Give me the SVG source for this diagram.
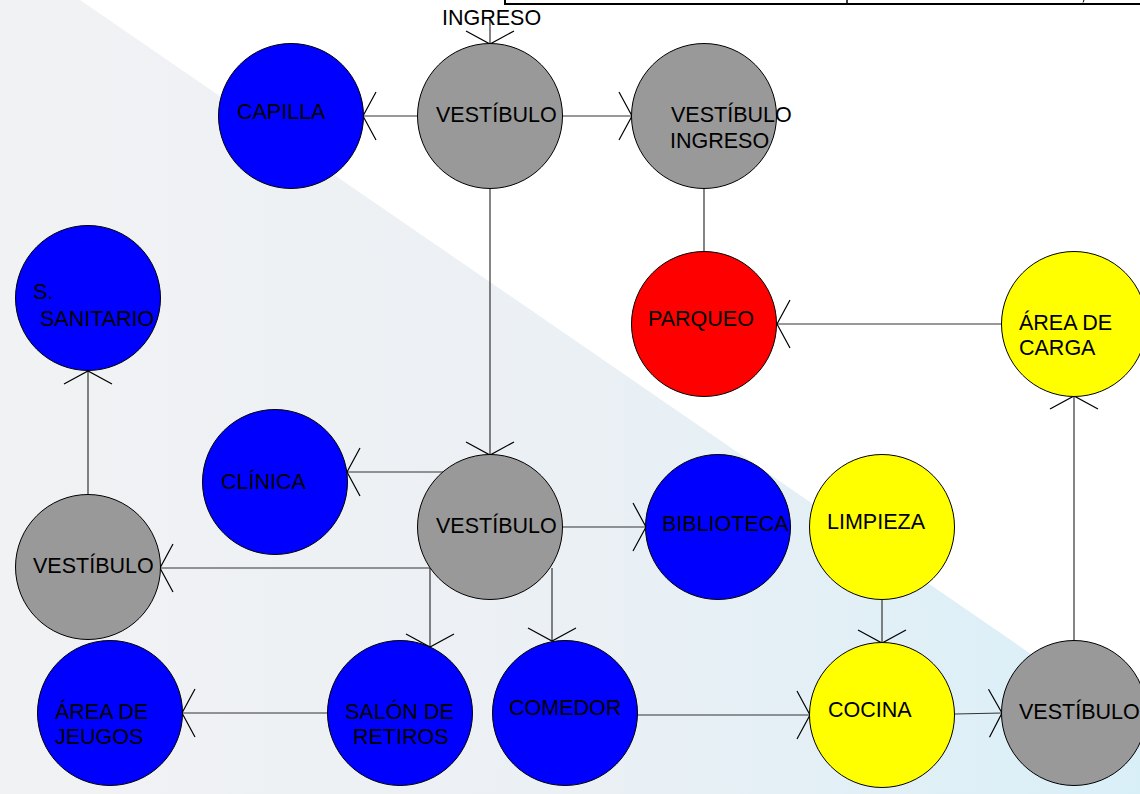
<svg xmlns="http://www.w3.org/2000/svg" width="1140" height="794" viewBox="0 0 1140 794">
  <defs>
    <linearGradient id="bgFade" x1="0" y1="0" x2="1140" y2="0" gradientUnits="userSpaceOnUse">
      <stop offset="0" stop-color="#f1f2f4"/>
      <stop offset="0.5" stop-color="#ebf0f4"/>
      <stop offset="1" stop-color="#d9eff8"/>
    </linearGradient>
    <marker id="openArrow" markerUnits="userSpaceOnUse" orient="auto" markerWidth="30" markerHeight="60" refX="0" refY="0" overflow="visible">
      <path d="M -13 -24 L 0 0 L -13 24" fill="none" stroke="#000" stroke-width="1.2"/>
    </marker>
    <style>
      .grey { fill: #999999; stroke: #000; stroke-width: 1; }
      .blue { fill: #0000ff; stroke: #000; stroke-width: 1; }
      .red { fill: #ff0000; stroke: #000; stroke-width: 1; }
      .yellow { fill: #ffff00; stroke: #000; stroke-width: 1; }
      .lbl { font-family: "Liberation Sans", Arial, sans-serif; font-size: 21.5px; fill: #000; }
      .link { stroke: #333; stroke-width: 1.2; fill: none; }
      .arrow { marker-end: url(#openArrow); }
    </style>
  </defs>

  <!-- background band -->
  <rect x="0" y="0" width="1140" height="794" fill="#ffffff"/>
  <polygon points="0,0 80,0 1140,729 1140,794 0,794" fill="url(#bgFade)"/>

  <!-- frame fragment along the top edge -->
  <g id="top-frame" stroke="#000" fill="none">
    <line x1="505" y1="4" x2="1140" y2="4" stroke-width="2"/>
    <line x1="505" y1="0" x2="505" y2="5" stroke-width="2"/>
    <line x1="847" y1="0" x2="847" y2="4" stroke-width="1.5"/>
    <line x1="1084" y1="0" x2="1083" y2="2.5" stroke-width="1"/>
  </g>

  <!-- connectors -->
  <g id="connectors">
    <line class="link arrow" x1="490" y1="19" x2="490" y2="44"/>
    <line class="link arrow" x1="418" y1="116" x2="363" y2="116"/>
    <line class="link arrow" x1="562" y1="116" x2="632" y2="116"/>
    <line class="link" x1="704" y1="188" x2="704" y2="252"/>
    <line class="link arrow" x1="1001" y1="324" x2="777" y2="324"/>
    <line class="link arrow" x1="490" y1="188" x2="490" y2="455"/>
    <line class="link arrow" x1="443" y1="472" x2="347" y2="472"/>
    <line class="link arrow" x1="563" y1="527" x2="646" y2="527"/>
    <line class="link arrow" x1="430" y1="568" x2="160" y2="568"/>
    <line class="link arrow" x1="430" y1="568" x2="430" y2="647"/>
    <line class="link arrow" x1="552" y1="568" x2="552" y2="641"/>
    <line class="link arrow" x1="88" y1="495" x2="88" y2="371"/>
    <line class="link arrow" x1="328" y1="713" x2="182" y2="713"/>
    <line class="link arrow" x1="637" y1="715" x2="810" y2="715"/>
    <line class="link arrow" x1="882" y1="600" x2="882" y2="643"/>
    <line class="link arrow" x1="955" y1="714" x2="1002" y2="713"/>
    <line class="link arrow" x1="1074" y1="640" x2="1074" y2="396"/>
  </g>

  <!-- entrance label -->
  <g id="ingreso">
    <text class="lbl" x="442" y="25">INGRESO</text>
  </g>

  <g id="vestibulo-principal">
    <circle class="grey" cx="490" cy="116" r="72.5"/>
    <text class="lbl" x="436" y="122">VESTÍBULO</text>
  </g>

  <g id="capilla">
    <circle class="blue" cx="291" cy="116" r="72.5"/>
    <text class="lbl" x="237" y="119">CAPILLA</text>
  </g>

  <g id="vestibulo-ingreso">
    <circle class="grey" cx="704" cy="116" r="72.5"/>
    <text class="lbl" x="671" y="122">VESTÍBULO</text>
    <text class="lbl" x="670" y="148">INGRESO</text>
  </g>

  <g id="parqueo">
    <circle class="red" cx="704" cy="324" r="72.5"/>
    <text class="lbl" x="648" y="326">PARQUEO</text>
  </g>

  <g id="area-carga">
    <circle class="yellow" cx="1074" cy="324" r="72.5"/>
    <text class="lbl" x="1019" y="330">ÁREA DE</text>
    <text class="lbl" x="1019" y="355">CARGA</text>
  </g>

  <g id="servicio-sanitario">
    <circle class="blue" cx="88" cy="298" r="72.5"/>
    <text class="lbl" x="33" y="299">S.</text>
    <text class="lbl" x="40" y="326">SANITARIO</text>
  </g>

  <g id="clinica">
    <circle class="blue" cx="275" cy="482" r="72.5"/>
    <text class="lbl" x="221" y="489">CLÍNICA</text>
  </g>

  <g id="vestibulo-central">
    <circle class="grey" cx="490" cy="527" r="72.5"/>
    <text class="lbl" x="436" y="533">VESTÍBULO</text>
  </g>

  <g id="biblioteca">
    <circle class="blue" cx="718" cy="527" r="72.5"/>
    <text class="lbl" x="662" y="531">BIBLIOTECA</text>
  </g>

  <g id="limpieza">
    <circle class="yellow" cx="882" cy="527" r="72.5"/>
    <text class="lbl" x="827" y="529">LIMPIEZA</text>
  </g>

  <g id="vestibulo-oeste">
    <circle class="grey" cx="88" cy="567" r="72.5"/>
    <text class="lbl" x="33" y="573">VESTÍBULO</text>
  </g>

  <g id="area-juegos">
    <circle class="blue" cx="110" cy="713" r="72.5"/>
    <text class="lbl" x="55" y="719">ÁREA DE</text>
    <text class="lbl" x="55" y="744">JEUGOS</text>
  </g>

  <g id="salon-retiros">
    <circle class="blue" cx="400" cy="713" r="72.5"/>
    <text class="lbl" x="345" y="719">SALÓN DE</text>
    <text class="lbl" x="353" y="744">RETIROS</text>
  </g>

  <g id="comedor">
    <circle class="blue" cx="565" cy="713" r="72.5"/>
    <text class="lbl" x="509" y="715">COMEDOR</text>
  </g>

  <g id="cocina">
    <circle class="yellow" cx="882" cy="715" r="72.5"/>
    <text class="lbl" x="828" y="717">COCINA</text>
  </g>

  <g id="vestibulo-servicio">
    <circle class="grey" cx="1074" cy="713" r="72.5"/>
    <text class="lbl" x="1019" y="719">VESTÍBULO</text>
  </g>
</svg>
